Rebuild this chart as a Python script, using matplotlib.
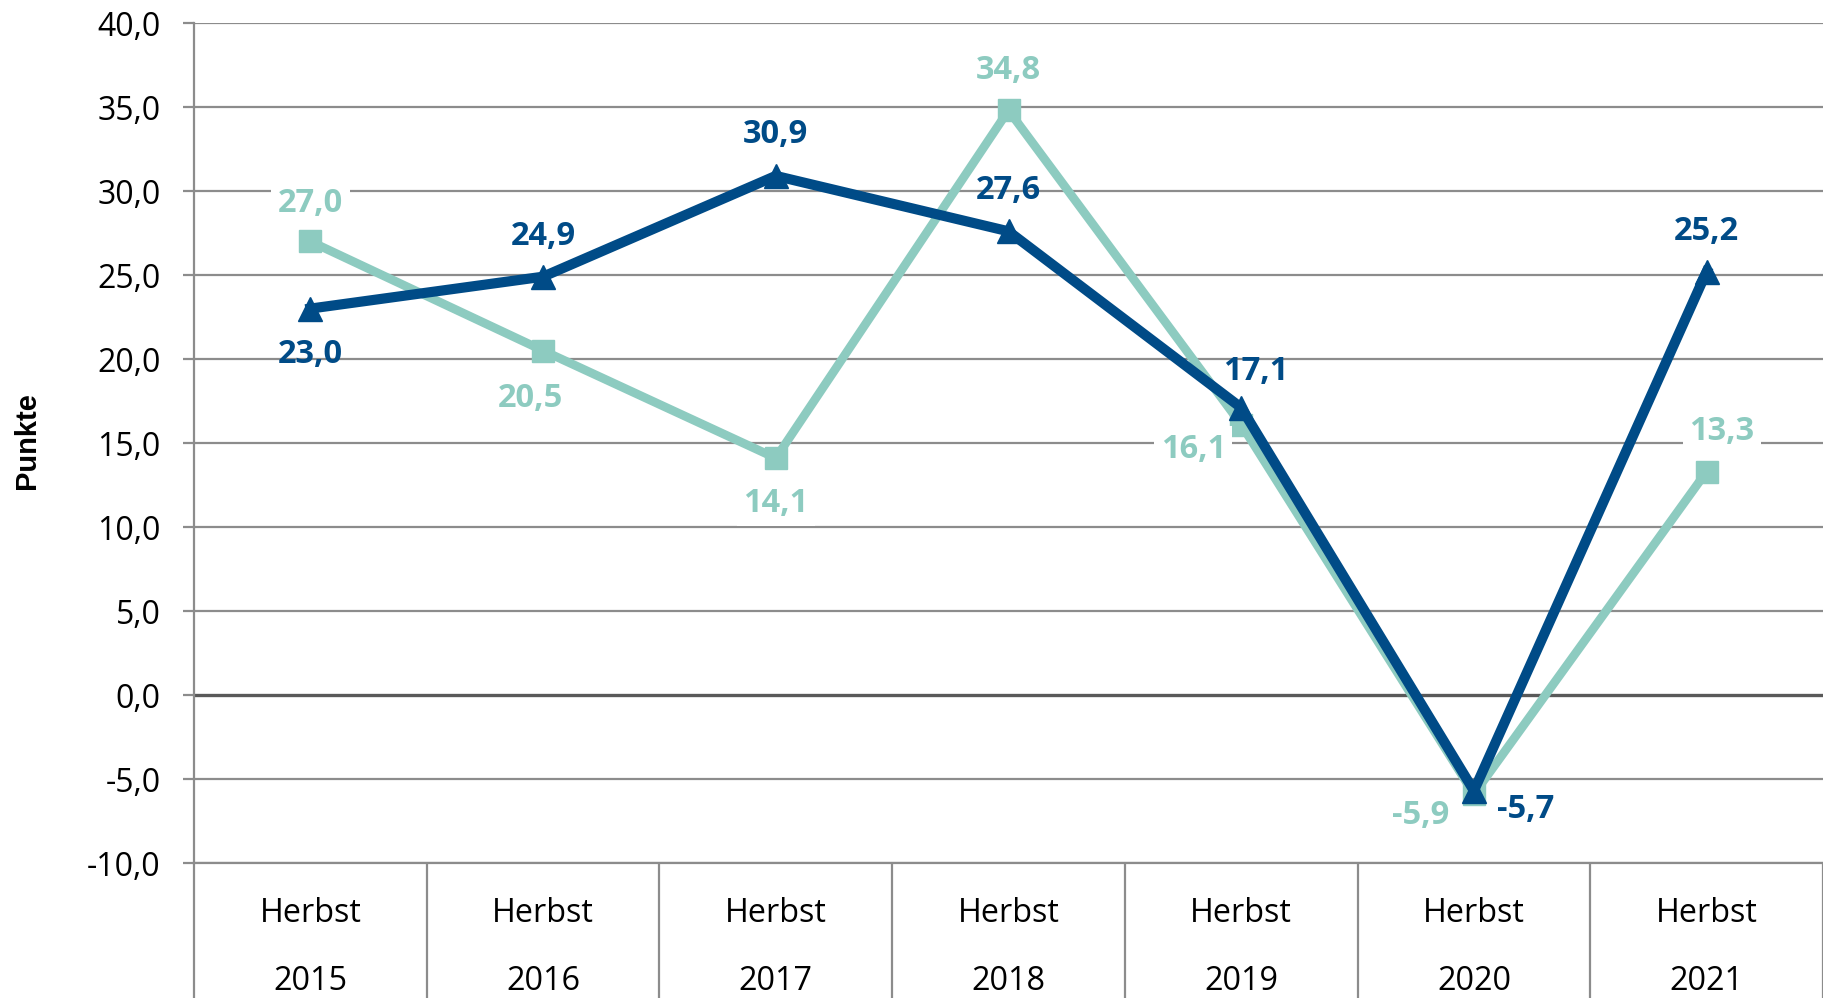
import matplotlib
matplotlib.use("Agg")
import matplotlib.pyplot as plt
import matplotlib.transforms as mtransforms
import numpy as np

# ---- data ----
categories = ["2015", "2016", "2017", "2018", "2019", "2020", "2021"]
cat_prefix = "Herbst"
series_dark = [23.0, 24.9, 30.9, 27.6, 17.1, -5.7, 25.2]
series_teal = [27.0, 20.5, 14.1, 34.8, 16.1, -5.9, 13.3]
ytick_values = [-10, -5, 0, 5, 10, 15, 20, 25, 30, 35, 40]
ylabel = "Punkte"

# label offsets in pixels (dx, dy)
dark_offsets = [(0, -46), (0, 40), (0, 41), (0, 41), (15, 36), (52, -19), (0, 40)]
teal_offsets = [(0, 38), (-13, -48), (0, -45), (0, 40), (-48, -25), (-53, -21), (15, 40)]

DARK = "#004B87"
TEAL = "#8DCBC0"
GRID = "#8C8C8C"

W, H = 1823, 998
fig = plt.figure(figsize=(W / 100, H / 100), dpi=100)
left_px, top_px, bottom_px = 194, 23, 863
ax = fig.add_axes([left_px / W, 1 - bottom_px / H, 1 - left_px / W, (bottom_px - top_px) / H])

x = np.arange(len(categories))
ax.set_xlim(-0.5, len(categories) - 0.5)
ax.set_ylim(-10, 40)

# grid lines
for v in ytick_values:
    if v == 0:
        ax.axhline(v, color="#595959", lw=2.4, zorder=1)
    else:
        ax.axhline(v, color=GRID, lw=1.6, zorder=1)

ax.plot(x, series_teal, color=TEAL, lw=6.3, marker="s", markersize=16.5, zorder=3,
        solid_joinstyle="miter")
ax.plot(x, series_dark, color=DARK, lw=7.3, marker="^", markersize=17, zorder=4,
        solid_joinstyle="miter")

lab_font = dict(family="Open Sans", fontsize=23.5, fontweight="bold")
for xi, v, (dx, dy) in zip(x, series_teal, teal_offsets):
    ax.annotate(f"{v:.1f}".replace(".", ","), (xi, v), xytext=(dx * 0.72, dy * 0.72),
                textcoords="offset points", ha="center", va="center", color=TEAL,
                zorder=6, bbox=dict(boxstyle="square,pad=0.2", fc="white", ec="none"),
                **lab_font)
for xi, v, (dx, dy) in zip(x, series_dark, dark_offsets):
    ax.annotate(f"{v:.1f}".replace(".", ","), (xi, v), xytext=(dx * 0.72, dy * 0.72),
                textcoords="offset points", ha="center", va="center", color=DARK,
                zorder=6, **lab_font)

# y axis
ax.set_yticks(ytick_values)
ax.set_yticklabels([f"{v:.1f}".replace(".", ",") for v in ytick_values],
                   family="Open Sans", fontsize=23)
ax.tick_params(axis="y", length=8, width=1.6, color=GRID, pad=16)

# x axis: separators as minor ticks, labels as texts
ax.set_xticks(x)
ax.set_xticklabels([])
ax.tick_params(axis="x", which="major", length=0)
ax.set_xticks(np.arange(-0.5, len(categories) + 0.5, 1.0), minor=True)
ax.tick_params(axis="x", which="minor", length=100, width=1.6, color=GRID, direction="out")

for s in ["top", "right"]:
    ax.spines[s].set_visible(False)
ax.spines["left"].set_color(GRID)
ax.spines["left"].set_linewidth(1.6)
ax.spines["bottom"].set_color(GRID)
ax.spines["bottom"].set_linewidth(1.6)

trans = mtransforms.blended_transform_factory(ax.transData, ax.transAxes)
axh = bottom_px - top_px
for xi, c in zip(x, categories):
    ax.text(xi, -50 / axh, cat_prefix, transform=trans, ha="center", va="center",
            family="Open Sans", fontsize=23.3)
    ax.text(xi, -118 / axh, c, transform=trans, ha="center", va="center",
            family="Open Sans", fontsize=23.3)

fig.text(27 / W, 1 - 441 / H, ylabel, rotation=90, ha="center", va="center",
         family="Liberation Sans", fontweight="bold", fontsize=21)

fig.savefig("out.png", dpi=100)
